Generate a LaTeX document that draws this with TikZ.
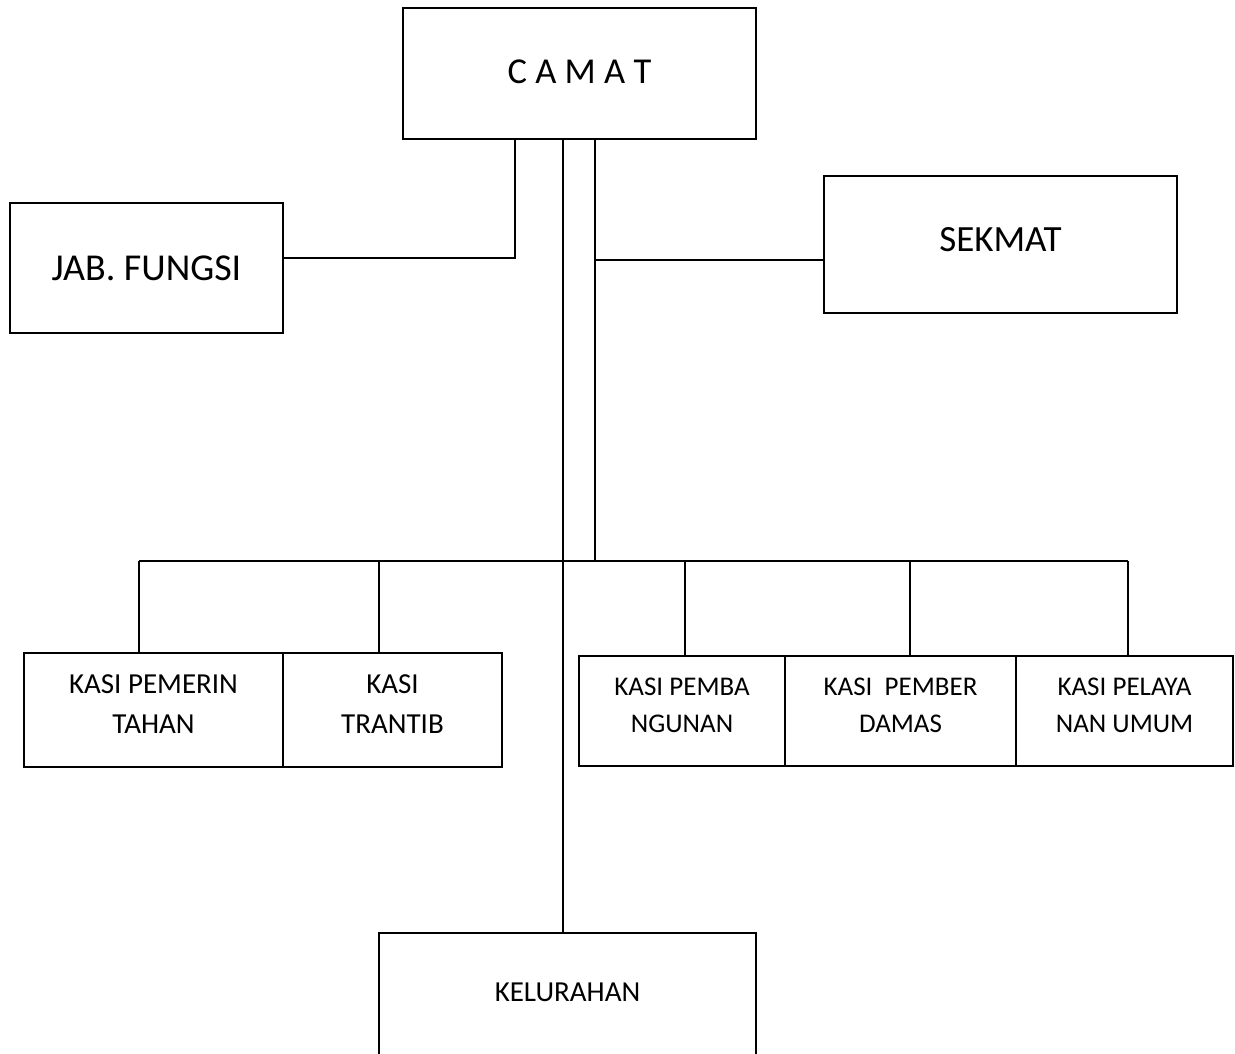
\documentclass[tikz,border=0pt]{standalone}
\usepackage{fontspec}
\setmainfont{Carlito}
\begin{document}
\begin{tikzpicture}[x=1pt,y=-1pt,
  box/.style={draw, line width=1.6pt, inner sep=0pt, align=center},
  conn/.style={line width=1.6pt},
  fkasiL/.style={font=\fontsize{29}{40}\selectfont, text depth=12pt},
  fkasiR/.style={font=\fontsize{27}{37}\selectfont, text depth=11pt}]
\useasboundingbox (0,0) rectangle (1235,1053);
% top level
\node[box, font=\fontsize{36.5}{40}\selectfont, minimum width=353pt, minimum height=131pt, text depth=3pt] (camat) at (579.5,73.5) {C A M A T};
\node[box, font=\fontsize{38}{40}\selectfont, minimum width=273pt, minimum height=130pt] (jab) at (146.5,268) {JAB. FUNGSI};
\node[box, font=\fontsize{37}{40}\selectfont, minimum width=353pt, minimum height=137pt, text height=23.4pt, text depth=10pt] (sekmat) at (1000.5,244.5) {SEKMAT};
% sections
\node[box, fkasiL, minimum width=259pt, minimum height=114pt] (pem) at (153.5,710) {KASI PEMERIN\\TAHAN};
\node[box, fkasiL, minimum width=219pt, minimum height=114pt] (trantib) at (392.5,710) {KASI\\TRANTIB};
\node[box, fkasiR, minimum width=206pt, minimum height=110pt] (pemba) at (682,711) {KASI PEMBA\\NGUNAN};
\node[box, fkasiR, minimum width=231pt, minimum height=110pt] (pember) at (900.5,711) {KASI\ \ PEMBER\\DAMAS};
\node[box, fkasiR, minimum width=217pt, minimum height=110pt] (pelaya) at (1124.5,711) {KASI PELAYA\\NAN UMUM};
% kelurahan (bottom cut by page edge)
\node[box, minimum width=377pt, minimum height=170pt, anchor=north] (kel) at (567.5,932) {};
\node[font=\fontsize{29}{34}\selectfont] (keltext) at (567.5,992) {KELURAHAN};
% coordinates
\coordinate (jx) at (515,0);
\coordinate (cx) at (563,0);
\coordinate (sx) at (595,0);
\coordinate (b1) at (139,561);
\coordinate (b2) at (379,561);
\coordinate (b3) at (685,561);
\coordinate (b4) at (910,561);
\coordinate (b5) at (1128,561);
\coordinate (jk) at ([yshift=10pt]jab.east);
\coordinate (sk) at ([yshift=-15.5pt]sekmat.west);
% connectors
\draw[conn] (jx |- camat.south) |- (jk);
\draw[conn] (sx |- camat.south) -- (sx |- b1);
\draw[conn] (sx |- sk) -- (sk);
\draw[conn] (cx |- camat.south) -- (cx |- kel.north);
\draw[conn] (b1) -- (b5);
\draw[conn] (b1) -- (b1 |- pem.north);
\draw[conn] (b2) -- (b2 |- trantib.north);
\draw[conn] (b3) -- (b3 |- pemba.north);
\draw[conn] (b4) -- (b4 |- pember.north);
\draw[conn] (b5) -- (b5 |- pelaya.north);
\end{tikzpicture}
\end{document}
